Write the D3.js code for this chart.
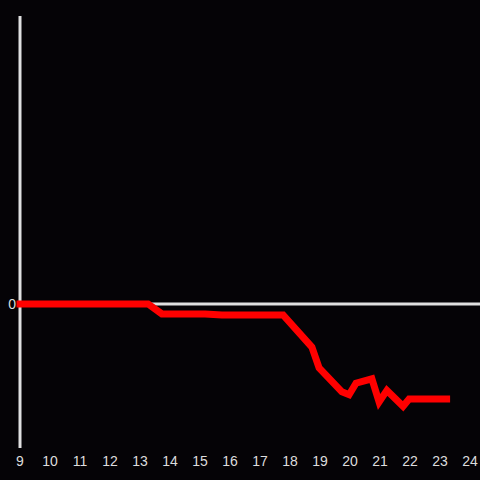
<!DOCTYPE html>
<html><head><meta charset="utf-8">
<script src="https://cdn.jsdelivr.net/npm/d3@7"></script>
<style>html,body{margin:0;padding:0;background:#050306;}svg{display:block;}</style>
</head><body>
<script>
const hours = [9, 13.27, 13.73, 15.17, 15.73, 17.77, 18.73, 18.97, 19.73, 19.97, 20.2, 20.73, 20.97, 21.23, 21.77, 21.97, 23.22];
const values = [0, 0, -6.9, -6.9, -7.6, -7.6, -29.9, -44.4, -61, -63, -55, -52, -68, -60, -71, -66, -66];
const xTicks = [9,10,11,12,13,14,15,16,17,18,19,20,21,22,23,24];
const yTicks = [0];

const W = 480, H = 480;
const svg = d3.select("body").append("svg").attr("width", W).attr("height", H);
svg.append("rect").attr("width", W).attr("height", H).attr("fill", "#050306");

const x = d3.scaleLinear().domain([9, 24]).range([20, 470]);
const y = d3.scaleLinear().domain([-100, 200]).range([448, 16]);

// zero line
svg.append("line").attr("x1", 20).attr("x2", 480).attr("y1", y(0)).attr("y2", y(0))
  .attr("stroke", "#e0e0e0").attr("stroke-width", 3);

// y axis
svg.append("line").attr("x1", 20).attr("x2", 20).attr("y1", 16).attr("y2", 448)
  .attr("stroke", "#e0e0e0").attr("stroke-width", 3);

svg.selectAll(".yt").data(yTicks).enter().append("text")
  .attr("x", 16).attr("y", d => y(d)).attr("dy", "0.35em").attr("text-anchor", "end")
  .attr("fill", "#dddddd").attr("font-family", "Liberation Sans, Arial, sans-serif").attr("font-size", 14)
  .text(d => d);

svg.selectAll(".xt").data(xTicks).enter().append("text")
  .attr("x", d => x(d)).attr("y", 461).attr("dy", "0.35em").attr("text-anchor", "middle")
  .attr("fill", "#dddddd").attr("font-family", "Liberation Sans, Arial, sans-serif").attr("font-size", 14)
  .text(d => d);

const line = d3.line().x((d, i) => x(hours[i])).y(d => y(d));
svg.append("path").attr("d", line(values)).attr("fill", "none")
  .attr("stroke", "#ff0000").attr("stroke-width", 7).attr("stroke-linejoin", "miter")
  .attr("stroke-linecap", "square");
</script>
</body></html>
